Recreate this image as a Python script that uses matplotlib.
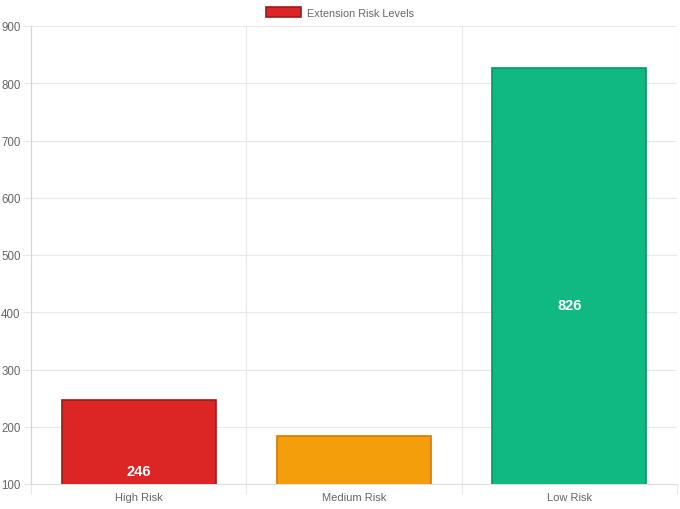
import matplotlib
matplotlib.use("Agg")
import matplotlib.pyplot as plt
from matplotlib.patches import Patch

categories = ["High Risk", "Medium Risk", "Low Risk"]
values = [246, 183, 826]
fill_colors = ["#dc2626", "#f59e0b", "#10b981"]
edge_colors = ["#991b1b", "#d97706", "#059669"]
y_ticks = [100, 200, 300, 400, 500, 600, 700, 800, 900]
legend_label = "Extension Risk Levels"

plt.rcParams['font.family'] = ['Liberation Sans', 'DejaVu Sans']

fig = plt.figure(figsize=(6.8, 5.1), dpi=100)
ax = fig.add_axes([31/680, 1-485/510, (677-31)/680, (485-27)/510])

x = list(range(len(categories)))
ax.bar(x, values, width=0.716, color=fill_colors, edgecolor=edge_colors,
       linewidth=1.2, zorder=3)

for xi, v in zip(x, values):
    ax.text(xi, v/2, str(v), ha='center', va='center', color='white',
            fontsize=10.5, fontweight='bold', zorder=4, clip_on=True)

ax.set_xlim(-0.5, len(categories)-0.5)
ax.set_ylim(100, 900)
ax.set_yticks(y_ticks)
ax.set_xticks(x)
ax.set_xticklabels(categories)
ax.set_xticks([i+0.5 for i in range(-1, len(categories))], minor=True)

grid_c = "#e8e8e8"
ax.grid(True, axis='y', which='major', color=grid_c, linewidth=0.8, zorder=0)
ax.grid(True, axis='x', which='minor', color=grid_c, linewidth=0.8, zorder=0)
ax.tick_params(axis='x', which='major', length=0, pad=6, labelsize=8, labelcolor="#666666")
ax.tick_params(axis='x', which='minor', length=7, color=grid_c, width=0.8)
ax.tick_params(axis='y', which='major', length=6, color=grid_c, width=0.8,
               labelsize=8.3, labelcolor="#666666", pad=1.5)

for s in ['top', 'right']:
    ax.spines[s].set_visible(False)
ax.spines['left'].set_color("#d4d4d4")
ax.spines['bottom'].set_color("#e0e0e0")
ax.spines['left'].set_linewidth(0.8)
ax.spines['bottom'].set_linewidth(0.8)

handle = Patch(facecolor=fill_colors[0], edgecolor=edge_colors[0], linewidth=1.2)
fig.legend([handle], [legend_label], loc='upper center', bbox_to_anchor=(0.5, 1.0),
           frameon=False, fontsize=7.8, labelcolor="#666666",
           handlelength=3.2, handleheight=1.0, handletextpad=0.5, borderaxespad=0.35)

fig.savefig("out.png", dpi=100)
